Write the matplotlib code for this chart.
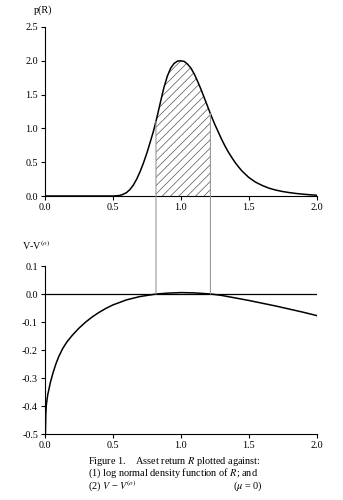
import matplotlib
matplotlib.use("Agg")
import matplotlib.pyplot as plt
import numpy as np
from matplotlib.patches import ConnectionPatch

plt.rcParams['font.family'] = ['Liberation Serif', 'DejaVu Serif']
plt.rcParams['mathtext.fontset'] = 'stix'
plt.rcParams['axes.unicode_minus'] = False
plt.rcParams['hatch.linewidth'] = 0.5
plt.rcParams['hatch.color'] = '#555555'

# --- data ---
R_density = [0.00, 0.45, 0.50, 0.525, 0.55, 0.575, 0.60, 0.625, 0.65, 0.675,
             0.70, 0.725, 0.75, 0.775, 0.80, 0.825, 0.85, 0.875, 0.90, 0.925,
             0.95, 0.975, 1.00, 1.025, 1.05, 1.075, 1.10, 1.125, 1.15, 1.175,
             1.20, 1.225, 1.25, 1.275, 1.30, 1.325, 1.35, 1.375, 1.40, 1.425,
             1.45, 1.50, 1.55, 1.60, 1.65, 1.70, 1.75, 1.80, 1.85, 1.90, 1.95, 2.00]
p_R = [0.00, 0.00, 0.00, 0.003, 0.008, 0.025, 0.05, 0.095, 0.16, 0.25,
       0.36, 0.49, 0.635, 0.80, 0.97, 1.17, 1.39, 1.60, 1.77, 1.89,
       1.96, 1.995, 2.00, 1.99, 1.95, 1.89, 1.80, 1.69, 1.57, 1.44,
       1.31, 1.18, 1.06, 0.95, 0.84, 0.74, 0.65, 0.57, 0.495, 0.43,
       0.37, 0.275, 0.205, 0.155, 0.115, 0.087, 0.066, 0.05, 0.037, 0.027, 0.018, 0.012]

R_value = [0.003, 0.006, 0.01, 0.02, 0.04, 0.06, 0.08, 0.10, 0.13, 0.16, 0.20,
           0.25, 0.30, 0.35, 0.40, 0.45, 0.50, 0.60, 0.70, 0.82, 0.90, 1.00,
           1.10, 1.22, 1.30, 1.40, 1.50, 1.60, 1.70, 1.80, 1.90, 2.00]
V_diff = [-0.50, -0.43, -0.395, -0.36, -0.315, -0.28, -0.25, -0.225, -0.195,
          -0.172, -0.148, -0.122, -0.100, -0.081, -0.065, -0.051, -0.039,
          -0.021, -0.009, 0.000, 0.003, 0.005, 0.004, 0.000, -0.005, -0.014,
          -0.023, -0.033, -0.043, -0.054, -0.065, -0.077]

shade_bounds = [0.817, 1.218]

x_ticks = [0.0, 0.5, 1.0, 1.5, 2.0]
top_y_ticks = [0.0, 0.5, 1.0, 1.5, 2.0, 2.5]
bot_y_ticks = [0.1, 0.0, -0.1, -0.2, -0.3, -0.4, -0.5]

fig = plt.figure(figsize=(3.43, 5.0), dpi=100)
ax1 = fig.add_axes([0.1312, 0.608, 0.792, 0.338])
ax2 = fig.add_axes([0.1312, 0.132, 0.792, 0.336])
for ax in (ax1, ax2):
    ax.patch.set_visible(False)

tick_kw = dict(direction='out', length=3, width=0.8, labelsize=7.3, pad=2)

# top plot
ax1.plot(R_density, p_R, color='black', lw=1.1, solid_capstyle='round', zorder=3)
Rd = np.array(R_density)
pr = np.array(p_R)
mask = (Rd > shade_bounds[0]) & (Rd < shade_bounds[1])
xs = np.concatenate([[shade_bounds[0]], Rd[mask], [shade_bounds[1]]])
ys = np.interp(xs, Rd, pr)
ax1.fill_between(xs, 0, ys, facecolor='none', edgecolor='#555555', hatch='////', linewidth=0)
ax1.set_xlim(0, 2.0)
ax1.set_ylim(0, 2.5)
ax1.set_xticks(x_ticks)
ax1.set_yticks(top_y_ticks)
ax1.set_xticklabels([f"{v:.1f}" for v in x_ticks])
ax1.set_yticklabels([f"{v:.1f}" for v in top_y_ticks])
ax1.tick_params(**tick_kw)
for s in ['top', 'right']:
    ax1.spines[s].set_visible(False)
for s in ['left', 'bottom']:
    ax1.spines[s].set_linewidth(0.8)
ax1.text(-0.04, 1.10, "p(R)", transform=ax1.transAxes, fontsize=7.3, ha='left', va='center')

# bottom plot
ax2.axhline(0, color='black', lw=0.9)
ax2.plot(R_value, V_diff, color='black', lw=1.1)
ax2.set_xlim(0, 2.0)
ax2.set_ylim(-0.5, 0.1)
ax2.set_xticks(x_ticks)
ax2.set_yticks(bot_y_ticks)
ax2.set_xticklabels([f"{v:.1f}" for v in x_ticks])
ax2.set_yticklabels([f"{v:.1f}" for v in bot_y_ticks])
ax2.tick_params(**tick_kw)
for s in ['top', 'right']:
    ax2.spines[s].set_visible(False)
for s in ['left', 'bottom']:
    ax2.spines[s].set_linewidth(0.8)
ax2.text(-0.085, 1.125, "V-V$^{(o)}$", transform=ax2.transAxes, fontsize=7.3, ha='left', va='center')

# connecting gray lines
for xb in shade_bounds:
    yb = float(np.interp(xb, Rd, pr))
    con = ConnectionPatch(xyA=(xb, yb), coordsA=ax1.transData,
                          xyB=(xb, 0.0), coordsB=ax2.transData,
                          color='#999999', lw=0.8, zorder=2)
    fig.add_artist(con)

# caption
cap_x = 0.257
fs = 7.4
fig.text(cap_x, 0.077, "Figure 1.    Asset return $R$ plotted against:", fontsize=fs, ha='left', va='center')
fig.text(cap_x, 0.053, "(1) log normal density function of $R$; and", fontsize=fs, ha='left', va='center')
fig.text(cap_x, 0.027, "(2) $V$ \u2212 $V$$^{(o)}$", fontsize=fs, ha='left', va='center')
fig.text(0.68, 0.027, "($\\mu$ = 0)", fontsize=fs, ha='left', va='center')

fig.savefig("out.png", dpi=100)
